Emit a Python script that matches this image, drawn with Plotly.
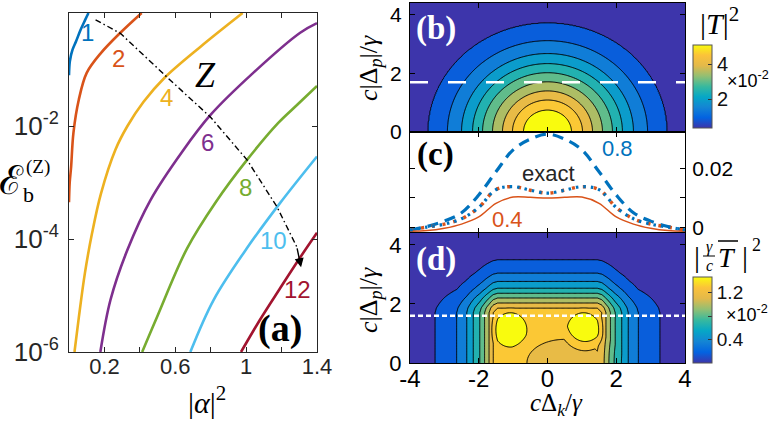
import numpy as np
import plotly.graph_objects as go

# ---------------- panel (a): |alpha|^2 vs log10(E_b) ----------------
n1_x = [0.0, 0.005, 0.02, 0.04, 0.065, 0.09, 0.11]
n1_logE = [-1.1, -0.85, -0.65, -0.5, -0.3, -0.13, 0.0]
n2_x = [0.0, 0.004, 0.012, 0.025, 0.055, 0.10, 0.18, 0.29, 0.41]
n2_logE = [-3.35, -3.0, -2.72, -2.12, -1.54, -1.06, -0.71, -0.35, 0.0]
n4_x = [0.031, 0.055, 0.09, 0.13, 0.18, 0.262, 0.33, 0.42, 0.538, 0.741, 0.98]
n4_logE = [-6.0, -5.4, -4.6, -3.9, -3.2, -2.42, -2.0, -1.575, -1.15, -0.60, 0.0]
n6_x = [0.177, 0.234, 0.33, 0.46, 0.64, 0.80, 1.04, 1.305, 1.4]
n6_logE = [-6.0, -5.08, -4.19, -3.31, -2.45, -1.80, -1.06, -0.35, -0.18]
n8_x = [0.413, 0.497, 0.666, 0.83, 1.005, 1.18, 1.29, 1.4]
n8_logE = [-6.0, -5.38, -4.17, -3.34, -2.6, -1.95, -1.62, -1.29]
n10_x = [0.685, 0.816, 1.005, 1.19, 1.4]
n10_logE = [-6.0, -5.08, -4.16, -3.37, -2.54]
n12_x = [0.971, 1.08, 1.19, 1.30, 1.4]
n12_logE = [-6.0, -5.42, -4.88, -4.35, -3.89]
z_path_x = [0.15, 0.29, 0.572, 0.798, 1.005, 1.174, 1.286]
z_path_logE = [-0.12, -0.36, -1.19, -1.84, -2.6, -3.43, -4.14]
z_arrow_tip = (1.31, -4.5)

curve_labels = ['1', '2', '4', '6', '8', '10', '12']
curve_colors = ['#0072BD', '#D95319', '#EDB120', '#7E2F8E', '#77AC30', '#4DBEEE', '#A2142F']
label_x = [0.104, 0.28, 0.55, 0.78, 0.995, 1.155, 1.29]
label_logE = [-0.34, -0.8, -1.5, -2.3, -3.08, -4.02, -4.9]

a_xticks = [0.2, 0.4, 0.6, 0.8, 1.0, 1.2, 1.4]
a_xticktext = ['0.2', '', '0.6', '', '1', '', '1.4']
a_yticks = [1, 1e-2, 1e-4, 1e-6]
a_yticktext = ['10<sup>0</sup>', '10<sup>-2</sup>', '10<sup>-4</sup>', '10<sup>-6</sup>']

# ---------------- panel (b): radial profile of |T|^2 (x1e-2) ----------------
b_r = [0.0, 0.35, 0.70, 1.02, 1.31, 1.60, 1.89, 2.18, 2.50, 2.91, 3.47, 4.5, 6.5]
b_val = [5.1, 4.9, 4.5, 4.0, 3.5, 3.0, 2.5, 2.0, 1.5, 1.0, 0.5, 0.42, 0.38]
b_aspect = 1.07
b_cut_y = 1.7

# ---------------- panel (c): cuts ----------------
c_x = [-4, -3.5, -3, -2.5, -2, -1.5, -1, -0.5, 0, 0.5, 1, 1.5, 2, 2.5, 3, 3.5, 4]
c_08 = [-0.0008, 0.0004, 0.0022, 0.005, 0.011, 0.0188, 0.0262, 0.0298, 0.0315,
        0.0298, 0.0262, 0.0188, 0.011, 0.005, 0.0022, 0.0004, -0.0008]
c_exact = [-0.0008, 0.0002, 0.0012, 0.0030, 0.0068, 0.0128, 0.0138, 0.0126, 0.0116,
           0.0126, 0.0138, 0.0128, 0.0068, 0.0030, 0.0012, 0.0002, -0.0008]
c_04 = [-0.0012, -0.0010, -0.0002, 0.0012, 0.0036, 0.0082, 0.0103, 0.0102, 0.0100,
        0.0102, 0.0103, 0.0082, 0.0036, 0.0012, -0.0002, -0.0010, -0.0012]

# ---------------- panel (d): |gamma/c T|^2 (x1e-2) profiles ----------------
d_px_knots = [0, 1.45, 1.58, 1.70, 1.83, 1.97, 2.16, 2.35, 2.64, 3.27, 4.0]
d_px_vals = [1, 1, 0.945, 0.827, 0.709, 0.59, 0.472, 0.354, 0.236, 0.118, 0.03]
d_qy_knots = [0, 1.7, 1.86, 2.03, 2.2, 2.36, 2.53, 2.76, 3.04, 3.49, 4.4]
d_qy_vals = [1, 1, 0.945, 0.827, 0.709, 0.59, 0.472, 0.354, 0.236, 0.118, 0.04]
d_plateau = 1.27
d_bump_cx = [-1.08, 1.05, 0.5]
d_bump_cy = [1.12, 1.12, 0.0]
d_bump_rx = [0.62, 0.62, 1.7]
d_bump_ry = [0.75, 0.75, 1.24]
d_bump_amp = [0.2, 0.2, -0.12]
d_cut_y = 1.6

parula = [[0, '#3d35ab'], [0.125, '#0363e1'], [0.25, '#1485d4'], [0.375, '#06a7c6'],
          [0.5, '#38b99e'], [0.625, '#92bf73'], [0.75, '#e3b94a'], [0.875, '#fbc23a'],
          [1, '#f9fb0e']]

W, H = 769, 422
def px(x):
    return x / W
def py(y):
    return 1 - y / H

fig = go.Figure()

# ---- panel (a) traces
series = [(n1_x, n1_logE), (n2_x, n2_logE), (n4_x, n4_logE), (n6_x, n6_logE),
          (n8_x, n8_logE), (n10_x, n10_logE), (n12_x, n12_logE)]
for (xs, ls), col in zip(series, curve_colors):
    fig.add_trace(go.Scatter(x=xs, y=[10 ** v for v in ls], mode='lines',
                             line=dict(color=col, width=2.6, shape='spline', smoothing=1.0),
                             xaxis='x', yaxis='y', showlegend=False, hoverinfo='skip'))
fig.add_trace(go.Scatter(x=z_path_x, y=[10 ** v for v in z_path_logE], mode='lines',
                         line=dict(color='black', width=1.4, dash='6px,3px,1.5px,3px'),
                         xaxis='x', yaxis='y', showlegend=False, hoverinfo='skip'))

# ---- panel (b)
bx = np.linspace(-4, 4, 321)
by = np.linspace(0, 4.4, 177)
BX, BY = np.meshgrid(bx, by)
BR = np.sqrt(BX ** 2 + (BY / b_aspect) ** 2)
BZ = np.interp(BR, b_r, b_val)
fig.add_trace(go.Contour(x=bx, y=by, z=BZ, xaxis='x2', yaxis='y2', colorscale=parula,
                         contours=dict(start=0.5, end=4.5, size=0.5, coloring='fill'),
                         line=dict(color='black', width=1), showscale=False, hoverinfo='skip'))
fig.add_trace(go.Scatter(x=[-4, 4], y=[b_cut_y, b_cut_y], mode='lines', xaxis='x2', yaxis='y2',
                         line=dict(color='white', width=2.5, dash='18px,20px'),
                         showlegend=False, hoverinfo='skip'))
fig.add_trace(go.Scatter(x=[0], y=[-10], mode='markers', xaxis='x2', yaxis='y2',
                         marker=dict(size=1, color=[1], colorscale=parula, cmin=0.35, cmax=5.1,
                                     showscale=True,
                                     colorbar=dict(x=px(693), xanchor='left', y=py(45), yanchor='top',
                                                   len=83 / H, lenmode='fraction', thickness=19,
                                                   xpad=0, ypad=0, outlinewidth=1, outlinecolor='#555',
                                                   tickvals=[2, 4], ticktext=['2', '4'], ticks='inside',
                                                   ticklen=4, tickcolor='#333',
                                                   tickfont=dict(family='Liberation Sans', size=20, color='#111'))),
                         showlegend=False, hoverinfo='skip'))

# ---- panel (c)
fig.add_trace(go.Scatter(x=c_x, y=c_08, mode='lines', xaxis='x3', yaxis='y3',
                         line=dict(color='#0072BD', width=3.2, dash='11px,7px', shape='spline'),
                         showlegend=False, hoverinfo='skip'))
fig.add_trace(go.Scatter(x=c_x, y=c_04, mode='lines', xaxis='x3', yaxis='y3',
                         line=dict(color='#D95319', width=1.5, shape='spline'),
                         showlegend=False, hoverinfo='skip'))
fig.add_trace(go.Scatter(x=c_x, y=c_exact, mode='lines', xaxis='x3', yaxis='y3',
                         line=dict(color='#D95319', width=3.5, dash='3px,8px', shape='spline'),
                         showlegend=False, hoverinfo='skip'))
fig.add_trace(go.Scatter(x=c_x, y=c_exact, mode='lines', xaxis='x3', yaxis='y3',
                         line=dict(color='#0072BD', width=3.2, dash='2.5px,5px', shape='spline'),
                         showlegend=False, hoverinfo='skip'))

# ---- panel (d)
dx = np.linspace(-4, 4, 321)
dy = np.linspace(0, 4.4, 177)
DX, DY = np.meshgrid(dx, dy)
DZ = d_plateau * np.interp(np.abs(DX), d_px_knots, d_px_vals) * np.interp(DY, d_qy_knots, d_qy_vals)
for cx, cy, rx, ry, amp in zip(d_bump_cx, d_bump_cy, d_bump_rx, d_bump_ry, d_bump_amp):
    DZ = DZ + amp * np.clip(1 - ((DX - cx) / rx) ** 2 - ((DY - cy) / ry) ** 2, 0, None)
fig.add_trace(go.Contour(x=dx, y=dy, z=DZ, xaxis='x4', yaxis='y4', colorscale=parula,
                         contours=dict(start=0.15, end=1.35, size=0.15, coloring='fill'),
                         line=dict(color='black', width=1), showscale=False, hoverinfo='skip'))
fig.add_trace(go.Scatter(x=[-4, 4], y=[d_cut_y, d_cut_y], mode='lines', xaxis='x4', yaxis='y4',
                         line=dict(color='white', width=2.5, dash='5px,3px'),
                         showlegend=False, hoverinfo='skip'))
fig.add_trace(go.Scatter(x=[0], y=[-10], mode='markers', xaxis='x4', yaxis='y4',
                         marker=dict(size=1, color=[1], colorscale=parula, cmin=0.0, cmax=1.47,
                                     showscale=True,
                                     colorbar=dict(x=px(693), xanchor='left', y=py(277), yanchor='top',
                                                   len=86 / H, lenmode='fraction', thickness=19,
                                                   xpad=0, ypad=0, outlinewidth=1, outlinecolor='#555',
                                                   tickvals=[0.4, 0.8, 1.2], ticktext=['0.4', '', '1.2'],
                                                   ticks='inside', ticklen=4, tickcolor='#333',
                                                   tickfont=dict(family='Liberation Sans', size=19, color='#111'))),
                         showlegend=False, hoverinfo='skip'))

# ---------------- layout ----------------
tick_font = dict(family='Liberation Sans', size=22, color='#262626')
frame = dict(showline=True, linecolor='black', linewidth=1, mirror='ticks', ticks='inside',
             ticklen=5, tickcolor='black', zeroline=False, showgrid=False, automargin=False)

fig.update_layout(
    template='none',
    width=W, height=H, margin=dict(l=0, r=0, t=0, b=0, pad=0, autoexpand=False),
    paper_bgcolor='white', plot_bgcolor='white',
    font=dict(family='Liberation Sans', color='black'),
    xaxis=dict(domain=[px(69), px(317)], range=[0, 1.4], tickvals=a_xticks, ticktext=a_xticktext,
               tickfont=tick_font, anchor='y', ticklabelstandoff=-5,
               **{**frame, 'linecolor': '#262626', 'tickcolor': '#262626'}),
    yaxis=dict(domain=[py(352), py(13)], type='log', range=[-6, 0], tickvals=a_yticks,
               ticktext=a_yticktext, tickfont=dict(family='Liberation Sans', size=26, color='#262626'),
               anchor='x', ticklabelstandoff=4,
               **{**frame, 'linecolor': '#262626', 'tickcolor': '#262626'}),
    xaxis2=dict(domain=[px(410), px(685)], range=[-4, 4], tickvals=[-4, -2, 0, 2, 4],
                showticklabels=False, anchor='y2', **frame),
    yaxis2=dict(domain=[py(132), py(3)], range=[0, 4.4], tickvals=[0, 2, 4],
                tickfont=dict(family='Liberation Sans', size=21, color='black'), anchor='x2',
                ticklabelstandoff=3, **frame),
    xaxis3=dict(domain=[px(410), px(685)], range=[-4, 4], tickvals=[-4, -2, 0, 2, 4],
                showticklabels=False, anchor='y3', **frame),
    yaxis3=dict(domain=[py(233), py(132)], range=[-0.0018, 0.0322], tickvals=[0, 0.01, 0.02],
                ticktext=['0', '', '0.02'], side='right',
                tickfont=dict(family='Liberation Sans', size=21, color='black'), anchor='x3',
                ticklabelstandoff=2, **frame),
    xaxis4=dict(domain=[px(410), px(685)], range=[-4, 4], tickvals=[-4, -2, 0, 2, 4],
                ticktext=['-4', '-2', '0', '2', '4'],
                tickfont=dict(family='Liberation Sans', size=24, color='black'), anchor='y4',
                ticklabelstandoff=-6, **frame),
    yaxis4=dict(domain=[py(363), py(233)], range=[0, 4.4], tickvals=[0, 2, 4],
                tickfont=dict(family='Liberation Sans', size=22, color='black'), anchor='x4',
                ticklabelstandoff=3, **frame),
)

ann = []
def pa(x, y, text, size, color='black', family='Liberation Serif', **kw):
    ann.append(dict(x=px(x), y=py(y), xref='paper', yref='paper', text=text, showarrow=False,
                    xanchor='center', yanchor='middle',
                    font=dict(family=family, size=size, color=color), **kw))

# panel (a) curve labels
for t, col, lx, ly in zip(curve_labels, curve_colors, label_x, label_logE):
    ann.append(dict(x=lx, y=ly, xref='x', yref='y', text=t, showarrow=False,
                    xanchor='center', yanchor='middle',
                    font=dict(family='Liberation Sans', size=24, color=col)))
ann.append(dict(x=0.77, y=-1.1, xref='x', yref='y', text='<i>Z</i>', showarrow=False,
                xanchor='center', yanchor='middle',
                font=dict(family='Liberation Serif', size=36, color='black')))
ann.append(dict(x=z_arrow_tip[0], y=z_arrow_tip[1], xref='x', yref='y',
                ax=z_path_x[-1], ay=z_path_logE[-1], axref='x', ayref='y', text='',
                showarrow=True, arrowhead=2, arrowsize=1.3, arrowwidth=1.4, arrowcolor='black'))
pa(280, 328, '<b>(a)</b>', 38)
pa(16, 182, 'ℰ<sub><span style="font-family:Liberation Serif;font-size:22px">b</span></sub>', 40,
   family='DejaVu Serif')
pa(38, 167, '(Z)', 19)
pa(207, 400, '|<i>α</i>|<sup>2</sup>', 30)

# panel (b)
pa(436, 28, '<b>(b)</b>', 33, color='white')
pa(370, 68, '<i>c</i>|Δ<sub><i>p</i></sub>|/<i>γ</i>', 26, textangle=-90)
pa(719, 21, '|<i>T</i>|<sup>2</sup>', 30)
pa(748, 79, '×10<sup>-2</sup>', 18, family='Liberation Sans')

# panel (c)
pa(435, 155, '<b>(c)</b>', 33)
pa(617, 149, '0.8', 22, color='#0072BD', family='Liberation Sans')
pa(548, 174, 'exact', 22, color='#262626', family='Liberation Sans')
pa(507, 219, '0.4', 22, color='#D95319', family='Liberation Sans')

# panel (d)
pa(436, 259, '<b>(d)</b>', 33, color='white')
pa(370, 300, '<i>c</i>|Δ<sub><i>p</i></sub>|/<i>γ</i>', 26, textangle=-90)
pa(556, 404, '<i>c</i>Δ<sub><i>k</i></sub>/<i>γ</i>', 25)
pa(697, 256, '|', 30)
pa(709, 247, '<i>γ</i>', 16)
pa(709, 265, '<i>c</i>', 16)
pa(727, 257, '<i>T</i>', 28)
pa(745, 256, '|', 30)
pa(756, 245, '2', 18)
pa(747, 313, '×10<sup>-2</sup>', 18, family='Liberation Sans')

fig.update_layout(annotations=ann, shapes=[
    dict(type='line', xref='paper', yref='paper', x0=px(703), x1=px(715), y0=py(256), y1=py(256),
         line=dict(color='black', width=1)),
    dict(type='line', xref='paper', yref='paper', x0=px(718), x1=px(738), y0=py(241), y1=py(241),
         line=dict(color='black', width=1.5)),
])

fig.write_html('out.html')
